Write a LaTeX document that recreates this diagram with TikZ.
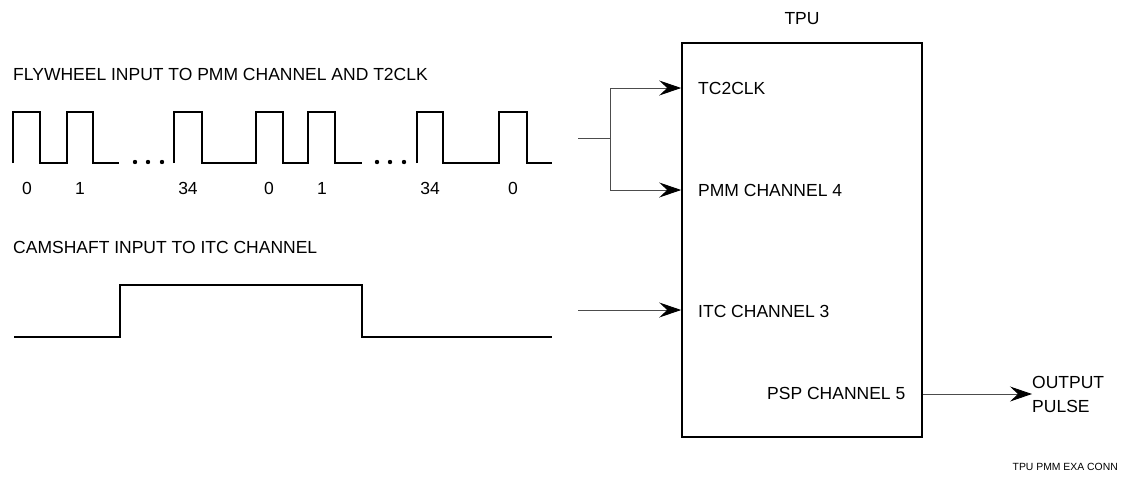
\documentclass[tikz,border=0pt]{standalone}
\usepackage{fontspec}
\setmainfont{Liberation Sans}
\usepackage{tikz}
\usetikzlibrary{arrows.meta}

\begin{document}
\begin{tikzpicture}[x=1pt,y=-1pt,
		font=\fontsize{17.5}{20}\selectfont,
		>={Stealth[length=22pt,width=15pt,inset=8pt,black]},
		wave/.style={line width=1.6pt,line join=miter},
		conn/.style={line width=0.9pt,draw=black!70},
		sig/.style={conn,->},
		lbl/.style={anchor=west,inner sep=0pt},
		tpubox/.style={draw,line width=1.6pt,minimum width=240pt,minimum height=394pt,inner sep=0pt}]
		\useasboundingbox (0,0) rectangle (1127,483);

		% titles
		\node[lbl] (fwtitle) at (13,74) {FLYWHEEL INPUT TO PMM CHANNEL AND T2CLK};
		\node[lbl] (camtitle) at (13,247) {CAMSHAFT INPUT TO ITC CHANNEL};

		% flywheel pulses
		\draw[wave] (13,163) -- (13,112) -- (40,112) -- (40,163) -- (67,163) -- (67,112) -- (93,112) -- (93,163) -- (119,163);
		\draw[wave] (174,163) -- (174,112) -- (202,112) -- (202,163) -- (256,163) -- (256,112) -- (283,112) -- (283,163) -- (308,163) -- (308,112) -- (335,112) -- (335,163) -- (362,163);
		\draw[wave] (417,163) -- (417,112) -- (443,112) -- (443,163) -- (499,163) -- (499,112) -- (527,112) -- (527,163) -- (552,163);
		\fill (135,162) circle (2.2) (148,162) circle (2.2) (162,162) circle (2.2);
		\fill (377,162) circle (2.2) (390,162) circle (2.2) (404,162) circle (2.2);

		\node (t0) at (27,188) {0}; \node (t1) at (80,188) {1}; \node (t34) at (188,188) {34};
		\node (u0) at (269,188) {0}; \node (u1) at (322,188) {1}; \node (u34) at (430,188) {34};
		\node (v0) at (513,188) {0};

		% camshaft
		\draw[wave] (14,337) -- (120,337) -- (120,285) -- (362,285) -- (362,337) -- (552,337);

		% tpu
		\node[tpubox] (tpu) at (802,240) {};
		\node (tputitle) at (802,19) {TPU};
		\node[lbl] (tc2clk) at (698,88) {TC2CLK};
		\node[lbl] (pmm) at (698,190) {PMM CHANNEL 4};
		\node[lbl] (itc) at (698,311) {ITC CHANNEL 3};
		\node[lbl] (psp) at (767,393) {PSP CHANNEL 5};
		\node[lbl,align=left,font=\fontsize{17.5}{24}\selectfont] (outp) at (1032,394) {OUTPUT\\PULSE};
		\node[anchor=east,inner sep=0pt,font=\fontsize{10.4}{12}\selectfont] (tag) at (1118,467) {TPU PMM EXA CONN};

		% connectors
		\coordinate (fwout) at (578,138);
		\coordinate (split) at (610,138);
		\coordinate (camout) at (578,310);
		\draw[conn] (fwout) -- (split);
		\draw[sig] (split) |- (tpu.west |- tc2clk.west);
		\draw[sig] (split) |- (tpu.west |- pmm.west);
		\draw[sig] (camout) -- (tpu.west |- camout);
		\draw[sig] (tpu.east |- outp.west) -- (outp.west);
	\end{tikzpicture}
\end{document}
